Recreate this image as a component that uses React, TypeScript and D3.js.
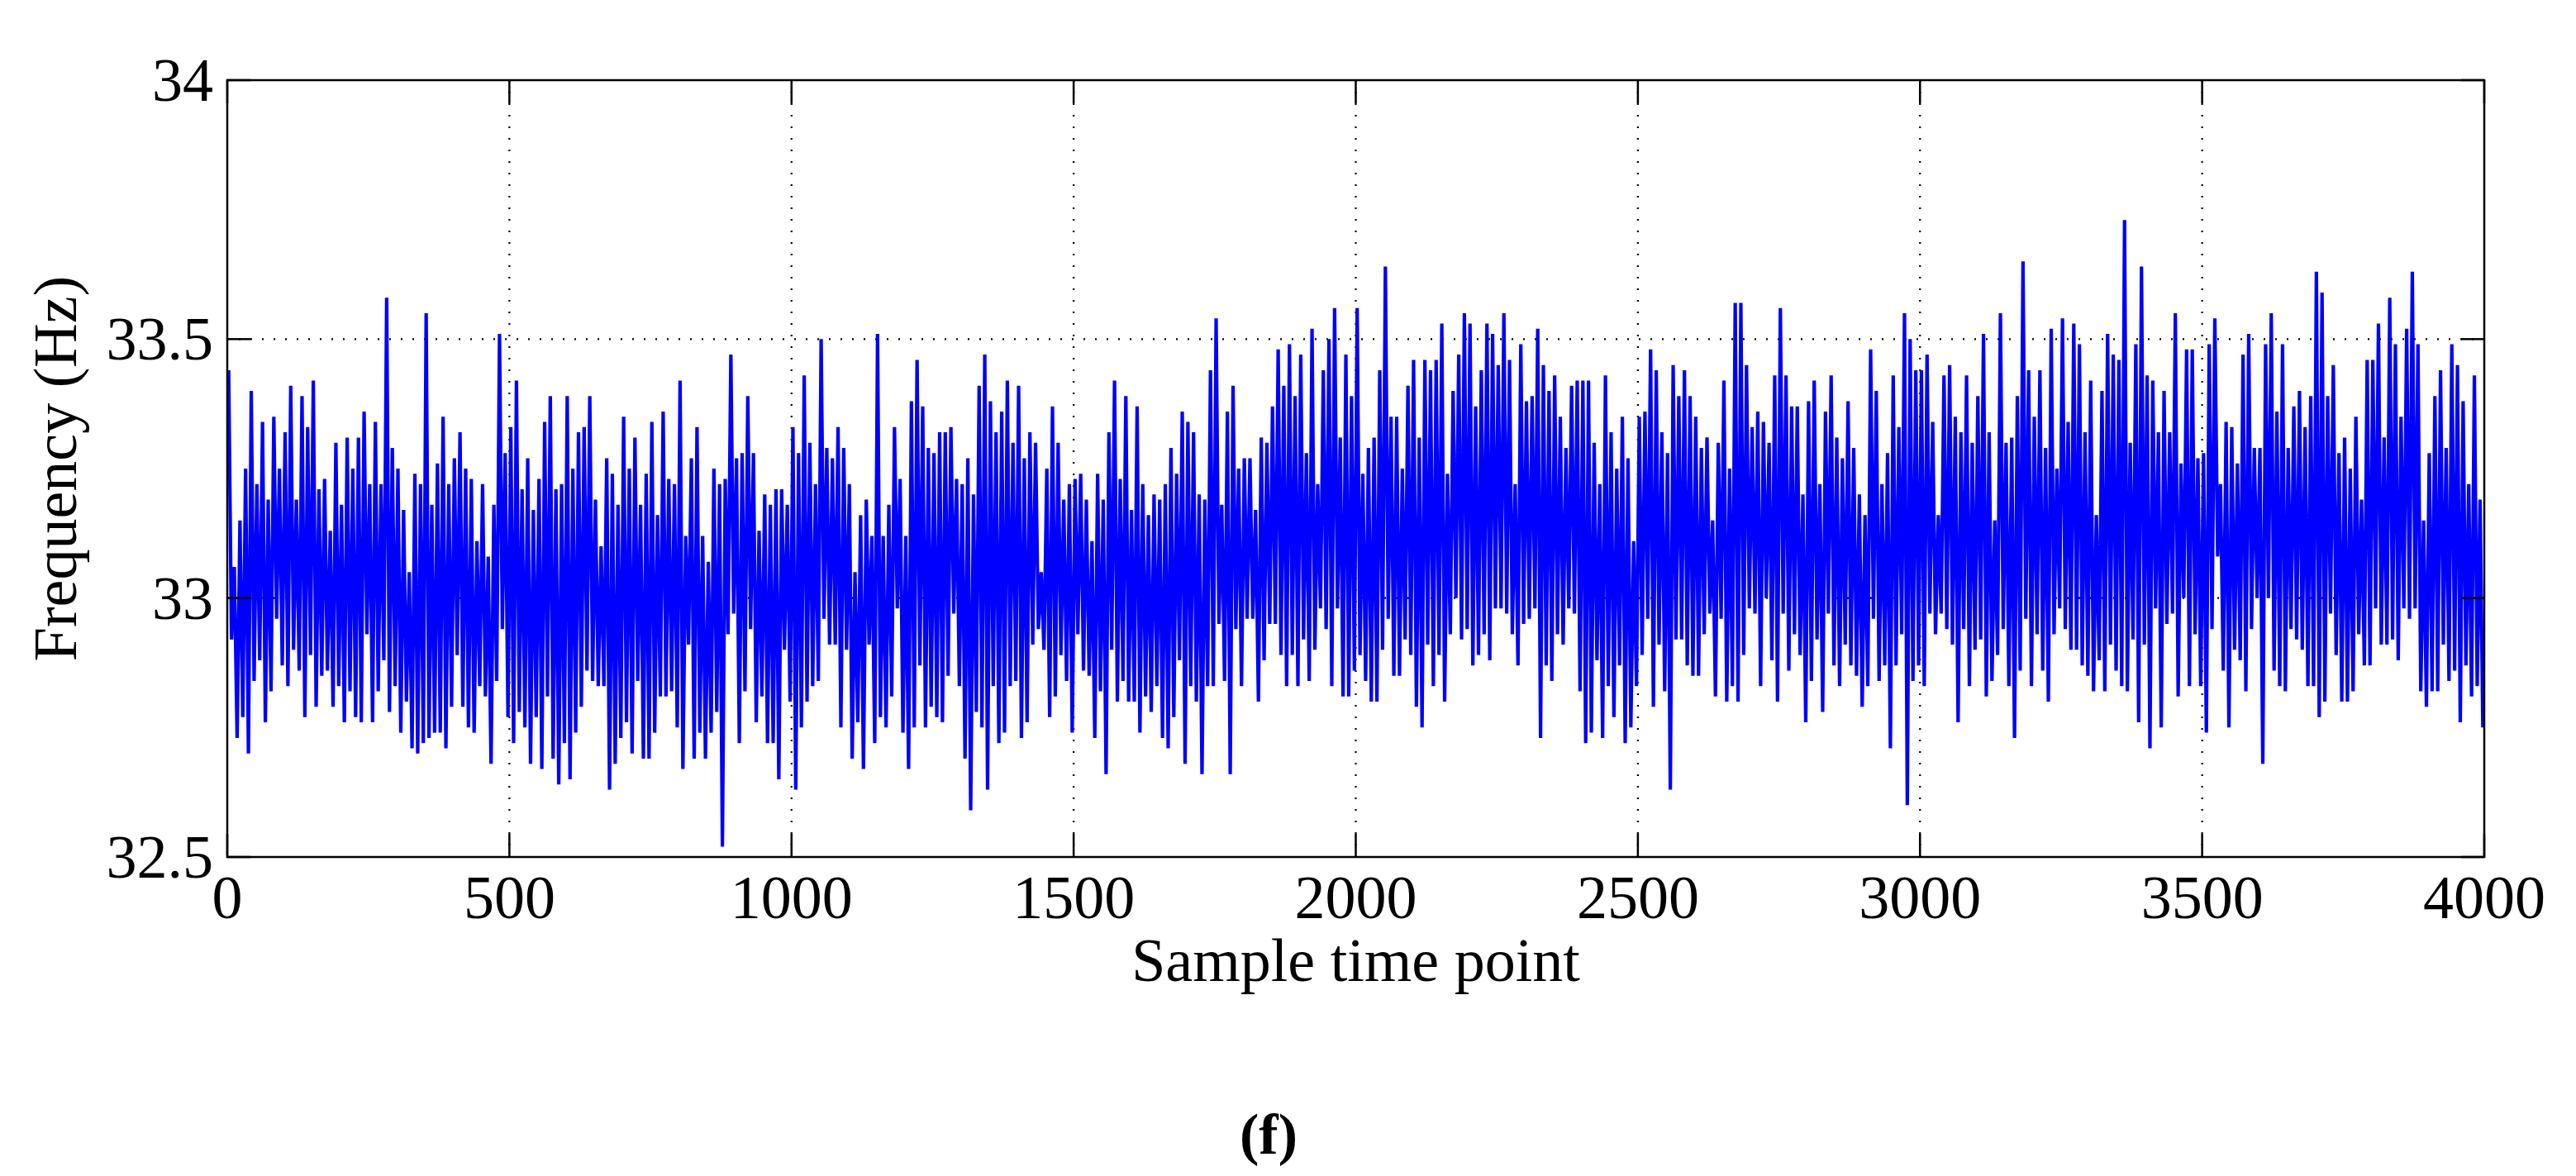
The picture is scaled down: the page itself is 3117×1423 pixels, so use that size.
import React from 'react';
import * as d3 from 'd3';

// Axis ticks
const xTickValues = [0, 500, 1000, 1500, 2000, 2500, 3000, 3500, 4000];
const yTickValues = [32.5, 33, 33.5, 34];
const xTickLabels = ['0', '500', '1000', '1500', '2000', '2500', '3000', '3500', '4000'];
const yTickLabels = ['32.5', '33', '33.5', '34'];

// Samples per bin: each bin of 10 samples is read as its highest and lowest value
const binSize = 10;

// Samples 0-500
const highs0 = [33.44,33.06,33.15,33.25,33.40,33.22,33.34,33.19,33.35,33.25,33.32,33.41,33.19,33.39,33.33,33.42,33.21,33.23,33.13,33.30,33.18,33.31,33.25,33.31,33.36,33.22,33.34,33.22,33.58,33.29,33.25,33.17,33.05,33.24,33.22,33.55,33.18,33.26,33.35,33.22,33.27,33.32,33.25,33.23,33.11,33.22,33.08,33.18,33.51,33.28];
const lows0 = [32.92,32.73,32.77,32.70,32.84,32.88,32.76,32.82,32.96,32.87,32.83,32.90,32.86,32.77,32.89,32.79,32.85,32.86,32.79,32.83,32.76,32.82,32.77,32.76,32.93,32.76,32.82,32.88,32.78,32.83,32.74,32.80,32.71,32.70,32.72,32.73,32.74,32.74,32.71,32.79,32.89,32.79,32.75,32.74,32.83,32.81,32.68,32.84,32.94,32.77];
// Samples 500-1000
const highs1 = [33.33,33.42,33.21,33.27,33.17,33.23,33.34,33.39,33.21,33.22,33.39,33.25,33.32,33.33,33.39,33.19,33.10,33.27,33.24,33.18,33.35,33.25,33.31,33.18,33.24,33.34,33.16,33.36,33.23,33.22,33.42,33.12,33.27,33.33,33.12,33.07,33.25,33.22,33.23,33.47,33.27,33.28,33.39,33.28,33.13,33.20,33.18,33.21,33.21,33.18];
const lows1 = [32.72,32.78,32.75,32.68,32.77,32.67,32.81,32.69,32.64,32.72,32.65,32.74,32.79,32.86,32.84,32.83,32.83,32.63,32.68,32.73,32.76,32.70,32.84,32.69,32.69,32.74,32.81,32.81,32.82,32.75,32.67,32.91,32.69,32.74,32.69,32.74,32.78,32.52,32.93,32.97,32.72,32.82,32.94,32.76,32.81,32.72,32.72,32.65,32.90,32.80];
// Samples 1000-1500
const highs2 = [33.33,33.28,33.43,33.30,33.22,33.50,33.29,33.27,33.33,33.29,33.22,33.05,33.16,33.19,33.12,33.51,33.12,33.18,33.33,33.23,33.12,33.38,33.46,33.37,33.29,33.28,33.32,33.32,33.33,33.23,33.22,33.27,33.20,33.41,33.47,33.38,33.32,33.36,33.42,33.30,33.41,33.27,33.32,33.30,33.05,33.25,33.37,33.30,33.19,33.22];
const lows2 = [32.63,32.75,32.80,32.83,32.84,32.96,32.91,32.91,32.75,32.90,32.69,32.76,32.67,32.91,32.72,32.77,32.75,32.81,32.98,32.74,32.67,32.75,32.87,32.75,32.79,32.77,32.76,32.85,32.97,32.83,32.69,32.59,32.78,32.75,32.63,32.83,32.72,32.74,32.83,32.84,32.73,32.76,32.91,32.94,32.90,32.77,32.81,32.89,32.84,32.74];
// Samples 1500-2000
const highs3 = [33.23,33.24,33.19,33.11,33.24,33.19,33.32,33.42,33.23,33.39,33.17,33.37,33.22,33.16,33.20,33.19,33.22,33.29,33.24,33.36,33.34,33.32,33.20,33.19,33.44,33.54,33.18,33.36,33.41,33.25,33.27,33.27,33.17,33.31,33.30,33.37,33.48,33.41,33.49,33.39,33.47,33.28,33.52,33.22,33.44,33.50,33.56,33.31,33.47,33.39];
const lows3 = [32.93,32.86,32.85,32.73,32.82,32.66,32.90,32.80,32.84,32.80,32.80,32.74,32.81,32.78,32.83,32.73,32.71,32.77,32.88,32.68,32.83,32.80,32.66,32.83,32.83,32.95,32.84,32.66,32.94,32.83,32.96,32.96,32.80,32.88,32.95,32.95,32.89,32.83,32.89,32.83,32.92,32.84,32.90,32.98,32.94,32.83,32.98,32.81,32.81,32.86];
// Samples 2000-2500
const highs4 = [33.56,33.24,33.29,33.31,33.44,33.64,33.35,33.35,33.25,33.41,33.46,33.31,33.46,33.44,33.46,33.53,33.24,33.40,33.47,33.55,33.53,33.37,33.44,33.53,33.51,33.45,33.55,33.46,33.22,33.49,33.38,33.39,33.52,33.45,33.40,33.43,33.35,33.29,33.41,33.42,33.42,33.42,33.30,33.22,33.43,33.32,33.25,33.35,33.27,33.11];
const lows4 = [32.89,32.84,32.80,32.80,32.90,32.96,32.85,32.85,32.92,32.89,32.79,32.75,32.91,32.83,32.89,32.80,32.93,33.00,32.92,32.94,32.87,32.89,32.93,32.88,32.98,32.98,32.97,32.93,32.87,32.95,32.96,32.98,32.73,32.87,32.84,32.93,32.91,32.98,32.97,32.82,32.72,32.74,32.88,32.73,32.83,32.77,32.87,32.72,32.75,32.83];
// Samples 2500-3000
const highs5 = [33.35,33.36,33.48,33.44,33.32,33.28,33.45,33.39,33.44,33.39,33.35,33.29,33.31,33.15,33.30,33.42,33.25,33.57,33.57,33.45,33.33,33.36,33.34,33.30,33.43,33.56,33.43,33.37,33.37,33.20,33.38,33.42,33.22,33.36,33.43,33.31,33.27,33.38,33.29,33.20,33.16,33.48,33.40,33.22,33.28,33.43,33.33,33.55,33.50,33.44];
const lows5 = [32.89,32.96,32.79,32.91,32.82,32.63,32.92,32.92,32.87,32.85,32.85,32.93,32.97,32.81,32.96,32.80,32.83,32.80,32.89,32.98,32.97,32.83,33.00,32.88,32.80,32.97,32.86,32.93,32.89,32.76,32.84,32.92,32.78,32.97,32.87,32.83,32.91,32.87,32.85,32.79,32.83,32.96,32.84,32.87,32.71,32.87,32.93,32.60,32.84,32.87];
// Samples 3000-3500
const highs6 = [33.44,33.47,33.34,33.16,33.43,33.45,33.35,33.32,33.43,33.30,33.39,33.51,33.32,33.15,33.55,33.30,33.31,33.39,33.65,33.44,33.35,33.44,33.29,33.52,33.25,33.54,33.34,33.53,33.49,33.32,33.42,33.16,33.40,33.51,33.47,33.46,33.73,33.30,33.49,33.64,33.43,33.42,33.32,33.40,33.32,33.55,33.26,33.48,33.48,33.27];
const lows6 = [32.83,32.97,32.93,32.97,32.94,32.91,32.76,32.94,32.83,32.90,32.92,32.81,32.84,32.89,32.94,32.83,32.73,32.86,32.96,32.83,32.93,32.86,32.80,32.93,32.98,32.94,32.90,32.90,32.87,32.85,32.82,32.88,32.82,32.91,32.86,32.83,32.82,32.92,32.76,32.91,32.71,32.98,32.75,32.95,32.97,32.81,33.00,32.83,32.93,32.83];
// Samples 3500-4000
const highs7 = [33.28,33.49,33.54,33.22,33.34,33.33,33.26,33.47,33.51,33.29,33.29,33.49,33.55,33.36,33.49,33.29,33.37,33.40,33.33,33.39,33.63,33.59,33.39,33.45,33.28,33.31,33.25,33.35,33.19,33.46,33.46,33.53,33.31,33.58,33.49,33.35,33.52,33.63,33.49,33.15,33.28,33.39,33.44,33.29,33.49,33.45,33.38,33.22,33.43,33.19];
const lows7 = [32.74,32.94,33.08,32.86,32.75,32.90,32.88,32.82,32.94,33.00,32.68,33.00,32.86,32.83,32.82,32.94,32.92,32.90,32.83,32.83,32.77,32.80,32.97,32.89,32.80,32.80,32.82,32.93,32.87,32.87,32.98,32.91,32.91,32.92,32.88,32.98,32.96,32.98,32.82,32.79,32.82,32.82,32.91,32.84,32.86,32.76,32.87,32.81,32.83,32.75];

const binHighs = [...highs0, ...highs1, ...highs2, ...highs3, ...highs4, ...highs5, ...highs6, ...highs7];
const binLows = [...lows0, ...lows1, ...lows2, ...lows3, ...lows4, ...lows5, ...lows6, ...lows7];

const xLabel = 'Sample time point';
const yLabel = 'Frequency (Hz)';
const panelLabel = '(f)';

const W = 3117;
const H = 1423;
const M = { left: 275, right: 3006, top: 97, bottom: 1037 };
const FONT = '"Liberation Serif", "Times New Roman", Times, serif';

export default function App() {
  const x = d3.scaleLinear().domain([0, 4000]).range([M.left, M.right]);
  const y = d3.scaleLinear().domain([32.5, 34]).range([M.bottom, M.top]);

  const pts: [number, number][] = [];
  binHighs.forEach((h, i) => {
    pts.push([i * binSize + 2.5, h]);
    pts.push([i * binSize + 7.5, binLows[i]]);
  });
  const line = d3
    .line<[number, number]>()
    .x((d) => x(d[0]))
    .y((d) => y(d[1]));

  const tickLen = 28;
  const axisW = 2.5;
  const gridDash = '2,12';

  return (
    <svg
      width={W}
      height={H}
      style={{ position: 'absolute', left: 0, top: 0, background: '#fff' }}
      xmlns="http://www.w3.org/2000/svg"
    >
      <rect x={0} y={0} width={W} height={H} fill="#fff" />
      <defs>
        <clipPath id="plotClip">
          <rect x={M.left} y={M.top} width={M.right - M.left} height={M.bottom - M.top} />
        </clipPath>
      </defs>

      {/* grid (behind data) */}
      <g stroke="#000" strokeWidth={2.2} strokeDasharray={gridDash}>
        {xTickValues.slice(1, -1).map((v) => (
          <line key={'gx' + v} x1={x(v)} x2={x(v)} y1={M.bottom} y2={M.top} />
        ))}
        {yTickValues.slice(1, -1).map((v) => (
          <line key={'gy' + v} x1={M.left} x2={M.right} y1={y(v)} y2={y(v)} />
        ))}
      </g>

      <g clipPath="url(#plotClip)">
        <path
          d={line(pts) || ''}
          fill="none"
          stroke="#0000ff"
          strokeWidth={4.2}
          strokeLinejoin="bevel"
        />
      </g>

      {/* ticks */}
      <g stroke="#000" strokeWidth={axisW}>
        {xTickValues.map((v) => (
          <g key={'tx' + v}>
            <line x1={x(v)} x2={x(v)} y1={M.bottom} y2={M.bottom - tickLen} />
            <line x1={x(v)} x2={x(v)} y1={M.top} y2={M.top + tickLen} />
          </g>
        ))}
        {yTickValues.map((v) => (
          <g key={'ty' + v}>
            <line x1={M.left} x2={M.left + tickLen} y1={y(v)} y2={y(v)} />
            <line x1={M.right} x2={M.right - tickLen} y1={y(v)} y2={y(v)} />
          </g>
        ))}
      </g>

      {/* box */}
      <rect
        x={M.left}
        y={M.top}
        width={M.right - M.left}
        height={M.bottom - M.top}
        fill="none"
        stroke="#000"
        strokeWidth={axisW}
      />

      {/* tick labels */}
      <g fontFamily={FONT} fontSize={74} fill="#000">
        {xTickValues.map((v, i) => (
          <text key={'lx' + v} x={x(v)} y={1111} textAnchor="middle">
            {xTickLabels[i]}
          </text>
        ))}
        {yTickValues.map((v, i) => (
          <text key={'ly' + v} x={258} y={y(v)} textAnchor="end" dominantBaseline="central">
            {yTickLabels[i]}
          </text>
        ))}
      </g>

      {/* axis labels */}
      <text
        x={(M.left + M.right) / 2}
        y={1187}
        textAnchor="middle"
        fontFamily={FONT}
        fontSize={74}
        fill="#000"
      >
        {xLabel}
      </text>
      <text
        transform={`translate(92, ${(M.top + M.bottom) / 2}) rotate(-90)`}
        textAnchor="middle"
        fontFamily={FONT}
        fontSize={74}
        fill="#000"
      >
        {yLabel}
      </text>
      <text
        x={1535}
        y={1396}
        textAnchor="middle"
        fontFamily={FONT}
        fontSize={70}
        fontWeight="bold"
        fill="#000"
      >
        {panelLabel}
      </text>
    </svg>
  );
}
